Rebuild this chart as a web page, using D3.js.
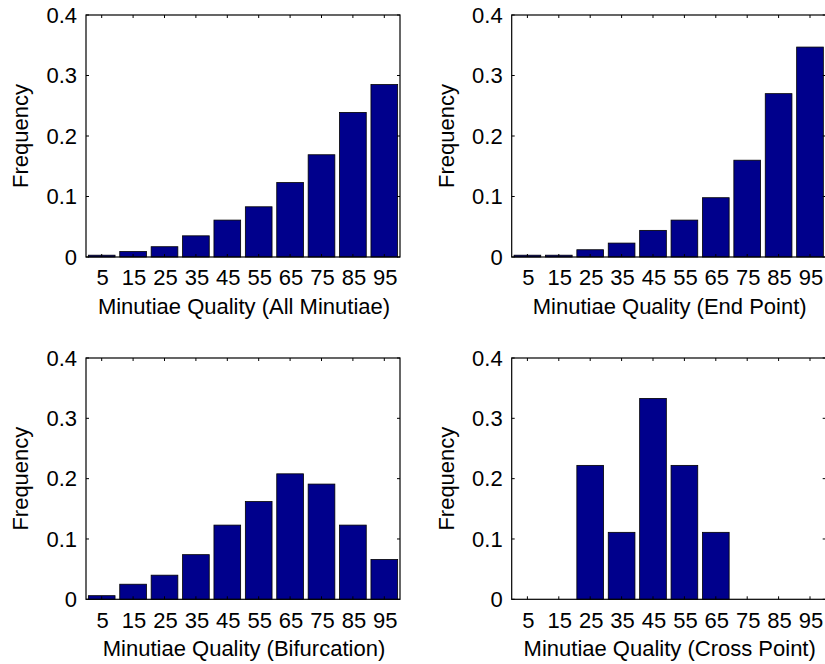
<!DOCTYPE html>
<html><head><meta charset="utf-8">
<script src="https://cdn.jsdelivr.net/npm/d3@7"></script>
<style>
body{margin:0;background:#fff;}
text{font-family:"Liberation Sans",Arial,sans-serif;fill:#000;}
</style></head>
<body><svg id="c" width="825" height="664"></svg>
<script>
const qualityBins = [5,15,25,35,45,55,65,75,85,95];
const yTicks = [0,0.1,0.2,0.3,0.4];
const allMinutiae = [0.003,0.009,0.017,0.035,0.061,0.083,0.123,0.169,0.239,0.285];
const endPoint = [0.003,0.003,0.012,0.023,0.044,0.061,0.098,0.160,0.270,0.347];
const bifurcation = [0.006,0.025,0.040,0.074,0.123,0.162,0.208,0.191,0.123,0.066];
const crossPoint = [0,0,0.222,0.111,0.333,0.222,0.111,0,0,0];
const xLabels = ["Minutiae Quality (All Minutiae)","Minutiae Quality (End Point)","Minutiae Quality (Bifurcation)","Minutiae Quality (Cross Point)"];
const yLabel = "Frequency";

const panels = [
  {vals: allMinutiae, label: xLabels[0], x: 86, y: 15, w: 314, h: 242},
  {vals: endPoint, label: xLabels[1], x: 511.7, y: 15, w: 314, h: 242},
  {vals: bifurcation, label: xLabels[2], x: 86, y: 358, w: 314, h: 241.3},
  {vals: crossPoint, label: xLabels[3], x: 511.7, y: 358, w: 314, h: 241.3}
];
const svg = d3.select("#c");
const FS = 22;
panels.forEach(p => {
  const g = svg.append("g").attr("transform", `translate(${p.x},${p.y})`);
  const x = d3.scaleLinear().domain([0,100]).range([0,p.w]);
  const y = d3.scaleLinear().domain([0,0.4]).range([p.h,0]);
  const bw = x(8.5) - x(0);
  g.selectAll("rect.bar").data(p.vals).join("rect")
    .attr("class","bar")
    .attr("x",(d,i)=>x(qualityBins[i]) - bw/2)
    .attr("width",bw)
    .attr("y",d=>y(d))
    .attr("height",d=>y(0)-y(d))
    .attr("fill","#00008c").attr("stroke","#000").attr("stroke-width",0.8);
  g.append("rect").attr("x",0).attr("y",0).attr("width",p.w).attr("height",p.h)
    .attr("fill","none").attr("stroke","#000").attr("stroke-width",1.2);
  const tl = 3;
  qualityBins.forEach(v=>{
    g.append("line").attr("x1",x(v)).attr("x2",x(v)).attr("y1",p.h).attr("y2",p.h-tl).attr("stroke","#000");
    g.append("line").attr("x1",x(v)).attr("x2",x(v)).attr("y1",0).attr("y2",tl).attr("stroke","#000");
  });
  yTicks.forEach(v=>{
    g.append("line").attr("x1",0).attr("x2",tl).attr("y1",y(v)).attr("y2",y(v)).attr("stroke","#000");
    g.append("line").attr("x1",p.w).attr("x2",p.w-tl).attr("y1",y(v)).attr("y2",y(v)).attr("stroke","#000");
  });
  g.selectAll("text.xt").data(qualityBins).join("text").attr("class","xt")
    .attr("x",d=>x(d)+1).attr("y",p.h+20.5).attr("dy","0.35em")
    .attr("text-anchor","middle").style("font-size",FS+"px").text(d=>d);
  g.selectAll("text.yt").data(yTicks).join("text").attr("class","yt")
    .attr("x",-9).attr("y",d=>y(d)).attr("dy","0.35em")
    .attr("text-anchor","end").style("font-size",FS+"px").text(d=>d===0?"0":d3.format(".1f")(d));
  g.append("text").attr("x",p.w/2+1).attr("y",p.h+57)
    .attr("text-anchor","middle").style("font-size",FS+"px").text(p.label);
  g.append("text").attr("transform",`translate(${-58},${p.h/2}) rotate(-90)`)
    .attr("text-anchor","middle").style("font-size",FS+"px").text(yLabel);
});
</script></body></html>
